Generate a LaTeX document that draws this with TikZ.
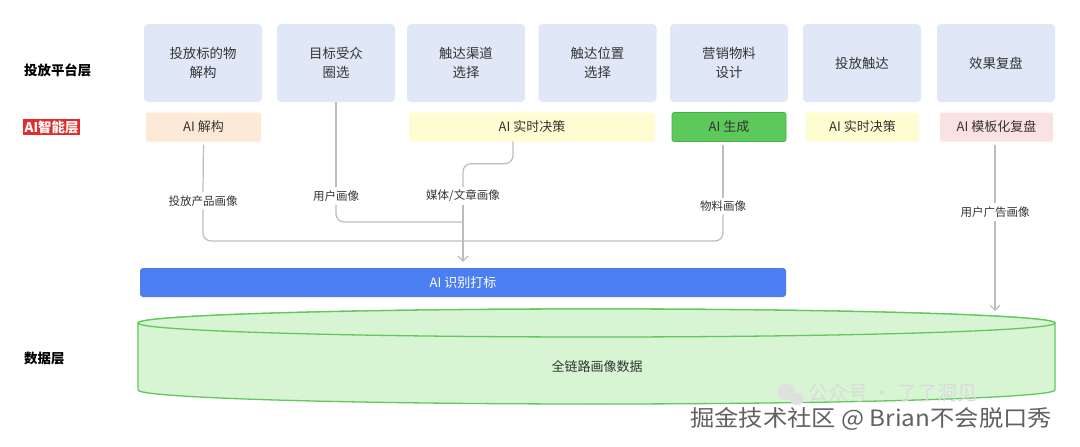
\documentclass[tikz,border=0pt]{standalone}
\usepackage{fontspec}
\setmainfont{Noto Sans CJK SC}
\usetikzlibrary{arrows.meta}
\definecolor{platblue}{HTML}{E0E8F8}
\definecolor{aiorange}{HTML}{FDEAD6}
\definecolor{aiyellow}{HTML}{FEFDD2}
\definecolor{aigreen}{HTML}{5DC95B}
\definecolor{aigreenb}{HTML}{45B043}
\definecolor{aipink}{HTML}{FBE2E2}
\definecolor{barblue}{HTML}{4B7EF1}
\definecolor{dbfill}{HTML}{D7F5D3}
\definecolor{dbline}{HTML}{62C85D}
\definecolor{connc}{HTML}{BDBDBD}
\definecolor{txt}{HTML}{333333}
\definecolor{layerred}{HTML}{E32B2B}
\newcommand{\fsz}[1]{\fontsize{#1}{19}\selectfont}
\tikzset{
  platbox/.style={rectangle, rounded corners=4pt, fill=platblue, minimum width=118pt, minimum height=78pt, align=center, text=txt, font=\fsz{13.4}, inner sep=0pt},
  aibox/.style={rectangle, rounded corners=2pt, minimum height=29pt, text=txt, font=\fsz{13}, inner sep=0pt},
  layer/.style={font=\fsz{13.4}\bfseries, text=black, inner sep=0pt, anchor=west},
  lbl/.style={fill=white, text=txt, font=\fsz{11.5}, inner sep=3pt},
  conn/.style={draw=connc, line width=1.2pt, rounded corners=8pt},
  arr/.style={conn, -{Straight Barb[length=5pt,width=10pt,line width=1.2pt]}},
  db/.style={draw=dbline, fill=dbfill, line width=1.3pt}
}
\begin{document}
\begin{tikzpicture}[x=1pt,y=1pt]
\useasboundingbox[fill=white] (0,0) rectangle (1080,-447);
% layer labels
\node[layer] (lp) at (24,-70) {投放平台层};
\node[layer, fill=layerred, text=white, inner sep=1.5pt] (lai) at (23,-127) {AI智能层};
\node[layer] (ld) at (24,-358) {数据层};
% platform boxes
\node[platbox] (p1) at (203,-63) {投放标的物\\解构};
\node[platbox] (p2) at (336,-63) {目标受众\\圈选};
\node[platbox] (p3) at (466,-63) {触达渠道\\选择};
\node[platbox] (p4) at (597.5,-63) {触达位置\\选择};
\node[platbox] (p5) at (729,-63) {营销物料\\设计};
\node[platbox] (p6) at (862,-63) {投放触达};
\node[platbox] (p7) at (996,-63) {效果复盘};
% AI boxes
\node[aibox, fill=aiorange, minimum width=115pt] (a1) at (203.5,-127) {AI 解构};
\node[aibox, fill=aiyellow, minimum width=246pt] (a3) at (532,-127) {AI 实时决策};
\node[aibox, fill=aigreen, draw=aigreenb, line width=0.6pt, minimum width=114pt] (a5) at (729,-127) {AI 生成};
\node[aibox, fill=aiyellow, minimum width=113pt] (a6) at (862.5,-127) {AI 实时决策};
\node[aibox, fill=aipink, minimum width=113pt] (a7) at (996.5,-127) {AI 模板化复盘};
% blue bar
\node[rectangle, rounded corners=3pt, fill=barblue, minimum width=646pt, minimum height=29pt, text=white, font=\fsz{13}, inner sep=0pt] (bar) at (463,-282.5) {AI 识别打标};
% cylinder
\filldraw[db] (138,-323) -- (138,-390) arc[start angle=180,end angle=360,x radius=458.5pt,y radius=14pt] -- (1055,-323) arc[start angle=0,end angle=180,x radius=458.5pt,y radius=14pt] -- cycle;
\draw[db] (596.5,-323) ellipse[x radius=458.5pt, y radius=14pt];
\node[text=txt, font=\fsz{13}] (dbtxt) at (597,-367) {全链路画像数据};
\coordinate (dbtop) at (995,-311);
% labels on connectors
\node[lbl] (l1) at (203,-201) {投放产品画像};
\node[lbl] (l2) at (336,-196) {用户画像};
\node[lbl] (l3) at (463,-196) {媒体/文章画像};
\node[lbl] (l4) at (723,-206) {物料画像};
\node[lbl] (l5) at (995,-212) {用户广告画像};
\coordinate (j1) at (463,-241);
\coordinate (j2) at (463,-222);
% connectors
\draw[conn, shorten <=3pt] (a1.south) -- (l1.north);
\draw[conn] (l1.south) |- (j1);
\draw[conn] (p2.south) -- (l2.north);
\draw[conn] (l2.south) |- (j2);
\draw[conn] ([xshift=-19pt]a3.south) |- ([yshift=-22pt]a3.south -| l3.north) -- (l3.north);
\draw[conn, shorten <=3pt] (a5.south -| l4.north) -- (l4.north);
\draw[conn] (l4.south) |- (j1);
\draw[arr, shorten >=6pt] (l3.south) -- (bar.north);
\draw[conn, shorten <=3pt] (a7.south -| l5.north) -- (l5.north);
\draw[arr] (l5.south) -- (dbtop);
% watermarks
\fill[black!12] (786,-392) ellipse[x radius=9pt, y radius=8pt];
\fill[black!12] (797,-399) ellipse[x radius=7pt, y radius=6pt];
\node[text=black!14, font=\fsz{20}, anchor=west, inner sep=0pt] (wm1) at (808,-393) {公众号 · 了了洞见};
\node[font=\fsz{22.5}, text=black!62, anchor=west, inner sep=0pt, xscale=1.08] (wm2) at (690,-419) {掘金技术社区 @ Brian不会脱口秀};
\end{tikzpicture}
\end{document}
